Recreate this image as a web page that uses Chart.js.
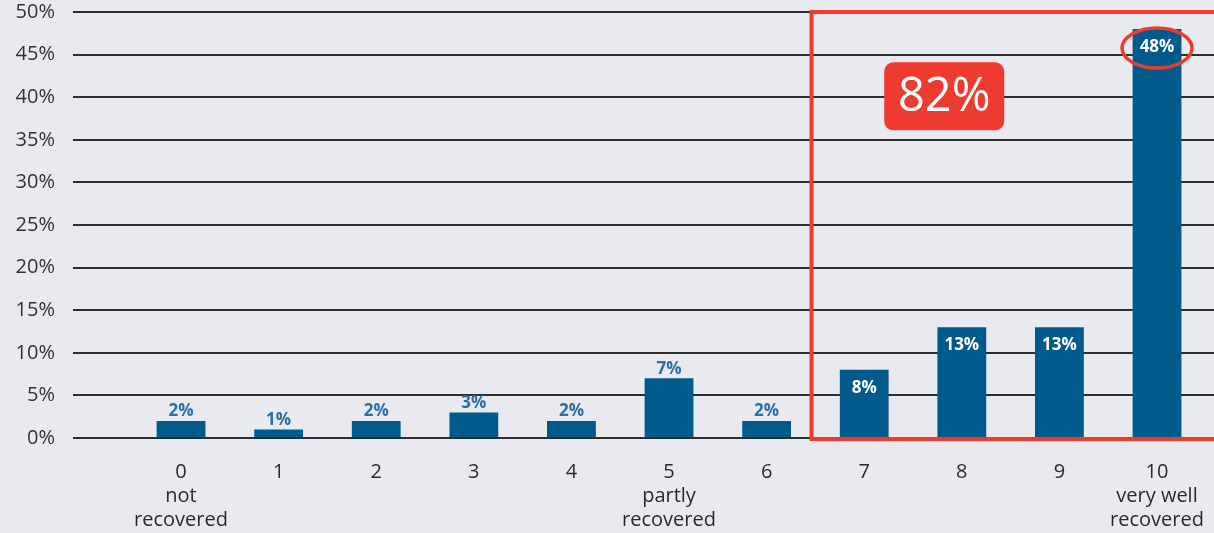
<!DOCTYPE html>
<html lang="en">
<head>
    <meta charset="UTF-8">
    <title>Recovery score distribution</title>
    <script src="https://cdn.jsdelivr.net/npm/chart.js"></script>
    <style>
        html, body { margin: 0; padding: 0; background: #e9eaf0; }
        #wrap { width: 1214px; height: 533px; }
    </style>
</head>
<body>
<div id="wrap"><canvas id="myChart"></canvas></div>

<script>
    // scores 0..10 and share of patients (%)
    const scores = [0, 1, 2, 3, 4, 5, 6, 7, 8, 9, 10];
    const shares = [2, 1, 2, 3, 2, 7, 2, 8, 13, 13, 48];
    const captions = [['not', 'recovered'], [], [], [], [], ['partly', 'recovered'], [], [], [], [], ['very well', 'recovered']];
    const yTicks = [0, 5, 10, 15, 20, 25, 30, 35, 40, 45, 50];
    const highlightFrom = 7;   // scores in the red box

    const barBlue = '#005a8c';
    const red = '#ee3b2f';

    // labels, red box, total badge and the ellipse round the top bar
    const overlay = {
        id: 'overlay',
        afterDatasetsDraw(chart) {
            const ctx = chart.ctx;
            const x = chart.scales.x, y = chart.scales.y;
            const meta = chart.getDatasetMeta(0);
            ctx.save();
            ctx.textAlign = 'center';
            meta.data.forEach(function (bar, i) {
                const txt = shares[i] + '%';
                ctx.font = 'bold 17px "Open Sans"';
                if (i >= highlightFrom) {
                    ctx.fillStyle = '#ffffff';
                    ctx.textBaseline = 'middle';
                    ctx.fillText(txt, bar.x, bar.y + 18);
                } else {
                    ctx.fillStyle = '#2a6fa6';
                    ctx.textBaseline = 'bottom';
                    ctx.fillText(txt, bar.x, bar.y - 1);
                }
            });

            // red frame round the high scores
            const left = x.getPixelForValue(highlightFrom - 0.54);
            const top = y.getPixelForValue(50);
            const bottom = y.getPixelForValue(0) + 1;
            ctx.strokeStyle = red;
            ctx.lineWidth = 4;
            ctx.strokeRect(left, top, chart.width + 10 - left, bottom - top);

            // total of the framed group
            let total = 0;
            for (let i = highlightFrom; i < shares.length; i++) total += shares[i];
            const bx = x.getPixelForValue(7.82), by = y.getPixelForValue(40.1);
            ctx.fillStyle = red;
            ctx.beginPath();
            ctx.roundRect(bx - 60, by - 34, 120, 68, 9);
            ctx.fill();
            ctx.fillStyle = '#ffffff';
            ctx.font = '47px "Open Sans"';
            ctx.textBaseline = 'middle';
            ctx.fillText(total + '%', bx, by + 1);

            // ellipse round the biggest label
            const last = meta.data[meta.data.length - 1];
            ctx.beginPath();
            ctx.ellipse(last.x, last.y + 19, 35, 20, 0, 0, Math.PI * 2);
            ctx.lineWidth = 3.5;
            ctx.stroke();
            ctx.restore();
        }
    };

    const ctx = document.getElementById('myChart').getContext('2d');
    const myChart = new Chart(ctx, {
        type: 'bar',
        data: {
            datasets: [{
                data: scores.map(function (s, i) { return {x: s, y: shares[i]}; }),
                backgroundColor: barBlue,
                barPercentage: 1,
                categoryPercentage: 0.5
            }]
        },
        options: {
            responsive: true,
            maintainAspectRatio: false,
            animation: false,
            layout: {padding: {top: 12, right: 0, left: 0, bottom: 0}},
            plugins: {legend: {display: false}, tooltip: {enabled: false}},
            scales: {
                x: {
                    type: 'linear',
                    offset: false,
                    min: -1.107,
                    max: 10.584,
                    grid: {display: false, drawTicks: false},
                    border: {display: false},
                    afterBuildTicks: function (scale) {
                        scale.ticks = scores.map(function (s) { return {value: s}; });
                    },
                    afterFit: function (scale) {
                        scale.height = 95;
                        scale.paddingLeft = 0;
                        scale.paddingRight = 0;
                    },
                    ticks: {
                        autoSkip: false,
                        maxRotation: 0,
                        padding: 22,
                        color: '#2b2b2b',
                        font: {family: 'Open Sans', size: 20, lineHeight: 1.2},
                        callback: function (v) {
                            return [String(v)].concat(captions[v] || []);
                        }
                    }
                },
                y: {
                    min: 0,
                    max: 50,
                    afterBuildTicks: function (scale) {
                        scale.ticks = yTicks.map(function (t) { return {value: t}; });
                    },
                    afterFit: function (scale) {
                        scale.width = 73;
                        scale.paddingTop = 0;
                        scale.paddingBottom = 0;
                    },
                    grid: {color: '#2e2e2e', lineWidth: 2, drawTicks: false},
                    border: {display: false},
                    ticks: {
                        padding: 18,
                        color: '#333333',
                        font: {family: 'Open Sans', size: 20},
                        callback: function (v) { return v + '%'; }
                    }
                }
            }
        },
        plugins: [overlay]
    });
</script>
</body>
</html>
